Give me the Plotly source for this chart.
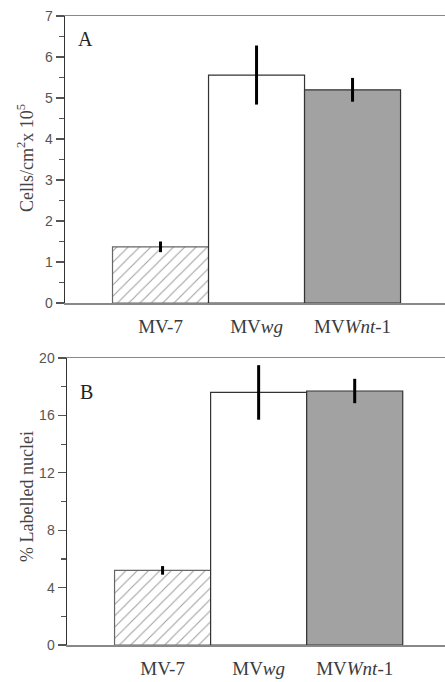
import plotly.graph_objects as go

categories = ["MV-7", "MVwg", "MVWnt-1"]
tick_labels = ["MV-7", "MV<i>wg</i>", "MV<i>Wnt</i>-1"]

cells_values = [1.37, 5.56, 5.20]
cells_errors = [0.13, 0.72, 0.29]

labelled_values = [5.2, 17.6, 17.7]
labelled_errors = [0.3, 1.9, 0.85]

W, H = 445, 682

def py(p):
    return 1 - p / H

serif = "Liberation Serif, Times New Roman, serif"
sans = "Liberation Sans, Arial, sans-serif"

fig = go.Figure()

marker_common = dict(
    color=["white", "white", "#a2a2a2"],
    line=dict(color=["#666", "#333", "#333"], width=1.2),
    pattern=dict(shape=["/", "", ""], fgcolor="#6e6e6e", bgcolor="white",
                 size=8, solidity=0.14),
)

fig.add_trace(go.Bar(
    x=categories, y=cells_values, width=1.0,
    marker=marker_common,
    error_y=dict(type="data", array=cells_errors, color="black", thickness=3, width=0),
    xaxis="x", yaxis="y", showlegend=False, hoverinfo="skip",
))
fig.add_trace(go.Bar(
    x=categories, y=labelled_values, width=1.0,
    marker=marker_common,
    error_y=dict(type="data", array=labelled_errors, color="black", thickness=3, width=0),
    xaxis="x2", yaxis="y2", showlegend=False, hoverinfo="skip",
))

xcommon = dict(
    type="category",
    tickmode="array", tickvals=categories, ticktext=tick_labels,
    ticks="", showline=True, linecolor="#888", linewidth=1.5,
    mirror=True, showgrid=False, zeroline=False,
    tickfont=dict(family=serif, size=19, color="#3a3a3a"),
    ticklabelstandoff=6, automargin=False, fixedrange=True,
)
ycommon = dict(
    showline=True, linecolor="#333", linewidth=1.5,
    ticks="outside", ticklen=8, tickwidth=1.2, tickcolor="#555",
    showgrid=False, zeroline=False,
    tickfont=dict(family=sans, size=14, color="#555"),
    automargin=False, fixedrange=True,
)

fig.update_layout(
    width=W, height=H,
    margin=dict(l=0, r=0, t=0, b=0),
    paper_bgcolor="white", plot_bgcolor="white",
    bargap=0,
    xaxis=dict(xcommon, domain=[65 / W, 1], range=[-0.995, 2.963], anchor="y"),
    yaxis=dict(ycommon, domain=[py(303), py(16)], range=[0, 7], dtick=1,
               minor=dict(dtick=0.5, ticks="outside", ticklen=5, tickcolor="#555"),
               anchor="x"),
    xaxis2=dict(xcommon, domain=[67 / W, 1], range=[-0.995, 2.94], anchor="y2"),
    yaxis2=dict(ycommon, domain=[py(645), py(358)], range=[0, 20], dtick=4,
                minor=dict(dtick=2, ticks="outside", ticklen=5, tickcolor="#555"),
                anchor="x2"),
    annotations=[
        dict(text="Cells/cm<sup>2</sup>x 10<sup>5</sup>", xref="paper", yref="paper",
             x=25 / W, y=py(158), textangle=-90, showarrow=False,
             font=dict(family=serif, size=18, color="#444"), xanchor="center", yanchor="middle"),
        dict(text="% Labelled nuclei", xref="paper", yref="paper",
             x=27 / W, y=py(497), textangle=-90, showarrow=False,
             font=dict(family=serif, size=18, color="#444"), xanchor="center", yanchor="middle"),
        dict(text="A", xref="paper", yref="paper", x=85 / W, y=py(39),
             showarrow=False, font=dict(family=serif, size=20, color="#222"),
             xanchor="center", yanchor="middle"),
        dict(text="B", xref="paper", yref="paper", x=86 / W, y=py(392),
             showarrow=False, font=dict(family=serif, size=20, color="#222"),
             xanchor="center", yanchor="middle"),
    ],
)

fig.write_html(
    "out.html",
    config={"displayModeBar": False, "staticPlot": True},
    post_script="document.body.style.margin='0';document.body.style.overflow='hidden';",
)
